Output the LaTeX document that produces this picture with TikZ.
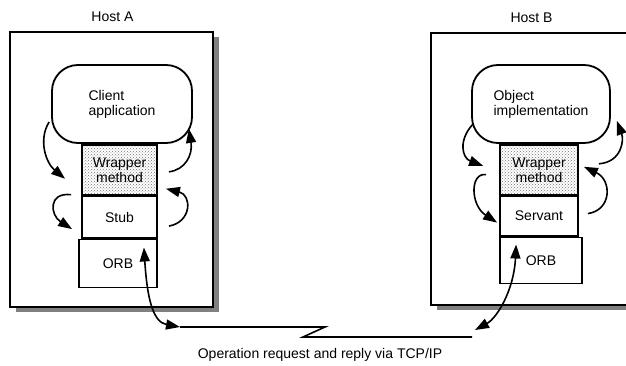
\documentclass[tikz,border=0pt]{standalone}
\usepackage{fontspec}
\setmainfont{Liberation Sans}
\usetikzlibrary{positioning,arrows.meta,calc,shadows,patterns}
\tikzset{
  host/.style  ={draw, line width=1.3pt, fill=white, inner sep=0pt,
                 drop shadow={shadow xshift=6pt, shadow yshift=-5pt, fill=black!50, opacity=1}},
  cloud/.style ={draw, line width=1.8pt, rounded corners=26pt, align=left,
                 minimum width=140pt, minimum height=78pt, fill=white},
  part/.style  ={draw, line width=1.8pt, fill=white, align=center, inner sep=1pt,
                 minimum width=75pt},
  wrap/.style  ={part, pattern=crosshatch dots, pattern color=black!55, minimum height=50pt},
  arr/.style   ={-{Triangle[length=14pt,width=10pt]}, line width=1.6pt},
  darr/.style  ={{Triangle[length=14pt,width=10pt]}-{Triangle[length=14pt,width=10pt]}, line width=1.6pt},
  net/.style   ={line width=1.6pt}
}

\begin{document}
\begin{tikzpicture}[x=1pt, y=-1pt, font=\fontsize{14}{15}\selectfont]
  \useasboundingbox (0,0) rectangle (626,366);
  \clip (0,0) rectangle (626,366);

  % host A
  \node[host, minimum width=203pt, minimum height=275pt] (hostA) at (111.5,169.5) {};
  \node[above=6pt of hostA, xshift=1pt] (labA) {Host A};
  \node[cloud] (cloudA) at (122,104) {Client\\application};
  \node[wrap, below=0pt of cloudA, xshift=-2.5pt] (wrapA) {Wrapper\\method};
  \node[part, below=0pt of wrapA, minimum height=41pt] (stubA) {Stub};
  \node[part, below=0pt of stubA.south east, anchor=north east, minimum width=78pt, minimum height=48pt] (orbA) {ORB};

  % host B
  \node[host, minimum width=209pt, minimum height=272pt] (hostB) at (535.5,169) {};
  \node[above=6pt of hostB, xshift=-4pt] (labB) {Host B};
  \node[cloud, minimum width=138pt] (cloudB) at (541,104) {Object\\implementation};
  \node[wrap, below=0pt of cloudB, xshift=-2pt, minimum width=78pt] (wrapB) {Wrapper\\method};
  \node[part, below=0pt of wrapB, minimum width=78pt, minimum height=39pt] (servB) {Servant};
  \node[part, below=0pt of servB.south west, anchor=north west, minimum width=82pt, minimum height=46pt] (orbB) {ORB};

  % link
  \coordinate (netA) at (180,327);
  \coordinate (netB) at (472,337);
  \draw[net] (netA) -- ++(145,0) -- ++(-22,10) -- (netB);
  \node (cap) at (320,355) {Operation request and reply via TCP/IP};

  \draw[arr] ($(cloudA.west)+(-2,18)$) .. controls (38,140) and (46,163) .. ($(wrapA.west)+(-16,9)$);
  \draw[arr] ($(wrapA.east)+(11,2)$) .. controls (185,170) and (193,155) .. ($(cloudA.south east)+(-4,-15)$);
  \draw[arr] ($(wrapA.south west)+(-10,-1)$) .. controls (48,192) and (50,215) .. ($(stubA.west)+(-9,12)$);
  \draw[arr] ($(stubA.east)+(11,9)$) .. controls (192,222) and (192,195) .. ($(wrapA.south east)+(8,-7)$);
  \draw[darr] ($(orbA.north east)+(-14,9)$) .. controls (147,295) and (152,322) .. (netA);

  \draw[arr] ($(cloudB.west)+(2,20)$) .. controls (458,140) and (462,158) .. ($(wrapB.west)+(-16,-4)$);
  \draw[arr] ($(wrapB.east)+(20,-6)$) .. controls (622,162) and (624,140) .. ($(cloudB.south east)+(6,-23)$);
  \draw[arr] ($(wrapB.south west)+(-13,-21)$) .. controls (470,172) and (470,205) .. ($(servB.west)+(-2,6.5)$);
  \draw[arr] ($(servB.east)+(9,-2.5)$) .. controls (612,210) and (612,180) .. ($(wrapB.east)+(5,-3)$);
  \draw[darr] ($(orbB.north west)+(17,8)$) .. controls (514,290) and (497,318) .. ($(netB)+(3,-7)$);
\end{tikzpicture}
\end{document}
